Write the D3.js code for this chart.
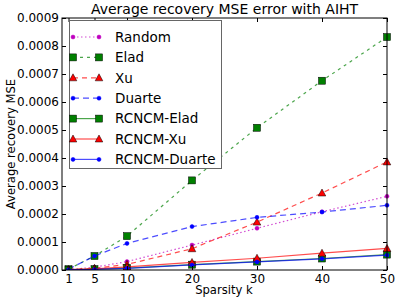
<!DOCTYPE html>
<html>
<head>
<meta charset="utf-8">
<script src="https://cdn.jsdelivr.net/npm/d3@7"></script>
<style>
  body { margin: 0; background: #fff; }
  svg text { font-family: "DejaVu Sans", sans-serif; fill: #000; }
</style>
</head>
<body>
<svg id="chart"></svg>
<script>
const width = 399;
const height = 303;

// data
const sparsity = [1, 5, 10, 20, 30, 40, 50];
const xTicks = [1, 5, 10, 20, 30, 40, 50];
const yTicks = [0, 0.0001, 0.0002, 0.0003, 0.0004, 0.0005, 0.0006, 0.0007, 0.0008, 0.0009];

const random      = [0.000001, 0.000010, 0.000030, 0.000089, 0.000149, 0.000208, 0.000263];
const elad        = [0.000003, 0.000050, 0.000121, 0.000320, 0.000508, 0.000676, 0.000832];
const xu          = [0.000001, 0.000006, 0.000020, 0.000076, 0.000171, 0.000275, 0.000386];
const duarte      = [0.000003, 0.000050, 0.000095, 0.000155, 0.000188, 0.000207, 0.000231];
const rcncmElad   = [0.000001, 0.000003, 0.000007, 0.000019, 0.000030, 0.000041, 0.000055];
const rcncmXu     = [0.000001, 0.000004, 0.000011, 0.000027, 0.000042, 0.000060, 0.000077];
const rcncmDuarte = [0.000001, 0.000002, 0.000006, 0.000018, 0.000029, 0.000040, 0.000053];

const series = [
  { name: "Random", values: random, color: "#bf00bf", dash: "1.5,2.5", marker: "dot" },
  { name: "Elad", values: elad, color: "#008000", dash: "3,4", marker: "square" },
  { name: "Xu", values: xu, color: "#ff0000", dash: "5,4", marker: "triangle" },
  { name: "Duarte", values: duarte, color: "#0000ff", dash: "6,4", marker: "dot" },
  { name: "RCNCM-Elad", values: rcncmElad, color: "#008000", dash: null, marker: "square" },
  { name: "RCNCM-Xu", values: rcncmXu, color: "#ff0000", dash: null, marker: "triangle" },
  { name: "RCNCM-Duarte", values: rcncmDuarte, color: "#0000ff", dash: null, marker: "dot" }
];

const margin = { top: 18, right: 12, bottom: 33, left: 62 };
const plotW = width - margin.left - margin.right;
const plotH = height - margin.top - margin.bottom;

const svg = d3.select("#chart")
  .attr("width", width)
  .attr("height", height);

const x = d3.scaleLinear().domain([0, 50]).range([margin.left, margin.left + plotW]);
const y = d3.scaleLinear().domain([0, 0.0009]).range([margin.top + plotH, margin.top]);

// clip the lines to the axes box (markers at the edge may stick out a bit)
svg.append("clipPath").attr("id", "clip")
  .append("rect")
  .attr("x", margin.left).attr("y", margin.top - 6)
  .attr("width", plotW + 6).attr("height", plotH + 6);

const line = d3.line().x((d, i) => x(sparsity[i])).y(d => y(d));

function drawMarker(g, type, cx, cy, color) {
  if (type === "square") {
    g.append("rect")
      .attr("x", cx - 3.5).attr("y", cy - 3.5)
      .attr("width", 7).attr("height", 7)
      .attr("fill", color).attr("stroke", "#000").attr("stroke-width", 0.5);
  } else if (type === "triangle") {
    g.append("path")
      .attr("d", `M${cx},${cy - 4}L${cx + 3.8},${cy + 3}L${cx - 3.8},${cy + 3}Z`)
      .attr("fill", color).attr("stroke", "#000").attr("stroke-width", 0.5);
  } else {
    g.append("circle")
      .attr("cx", cx).attr("cy", cy).attr("r", 2)
      .attr("fill", color).attr("stroke", color).attr("stroke-width", 0.5);
  }
}

const plot = svg.append("g").attr("clip-path", "url(#clip)");

series.forEach(s => {
  plot.append("path")
    .datum(s.values)
    .attr("d", line)
    .attr("fill", "none")
    .attr("stroke", s.color)
    .attr("stroke-opacity", 0.7)
    .attr("stroke-width", 1.2)
    .attr("stroke-dasharray", s.dash);
  const mg = plot.append("g");
  s.values.forEach((v, i) => drawMarker(mg, s.marker, x(sparsity[i]), y(v), s.color));
});

// axes box
svg.append("rect")
  .attr("x", margin.left).attr("y", margin.top)
  .attr("width", plotW).attr("height", plotH)
  .attr("fill", "none").attr("stroke", "#000").attr("stroke-width", 1);

// inward ticks on all four sides, like matplotlib
const xAxis = d3.axisBottom(x).tickValues(xTicks).tickSizeInner(-4).tickSizeOuter(0).tickPadding(4);
const yAxis = d3.axisLeft(y).tickValues(yTicks).tickSizeInner(-4).tickSizeOuter(0).tickPadding(3)
  .tickFormat(d3.format(".4f"));

const gx = svg.append("g").attr("transform", `translate(0,${margin.top + plotH})`).call(xAxis);
const gy = svg.append("g").attr("transform", `translate(${margin.left},0)`).call(yAxis);
svg.append("g").attr("transform", `translate(0,${margin.top})`)
  .call(d3.axisTop(x).tickValues(xTicks).tickSizeInner(-4).tickSizeOuter(0).tickFormat(""));
svg.append("g").attr("transform", `translate(${margin.left + plotW},0)`)
  .call(d3.axisRight(y).tickValues(yTicks).tickSizeInner(-4).tickSizeOuter(0).tickFormat(""));

svg.selectAll(".domain").remove();
svg.selectAll(".tick line").attr("stroke", "#000");
[gx, gy].forEach(g => g.selectAll("text")
  .style("font-size", "12px")
  .style("font-family", "'DejaVu Sans', sans-serif"));

// title and axis labels
svg.append("text")
  .attr("x", margin.left + plotW / 2).attr("y", 14)
  .attr("text-anchor", "middle").style("font-size", "14px")
  .text("Average recovery MSE error with AIHT");

svg.append("text")
  .attr("x", 224).attr("y", 294)
  .attr("text-anchor", "middle").style("font-size", "11.6px")
  .text("Sparsity k");

svg.append("text")
  .attr("transform", `translate(15,${margin.top + plotH / 2}) rotate(-90)`)
  .attr("text-anchor", "middle").style("font-size", "11.6px")
  .text("Average recovery MSE");

// legend
const legend = svg.append("g");
legend.append("rect")
  .attr("x", 69.5).attr("y", 20.5)
  .attr("width", 152).attr("height", 148)
  .attr("fill", "#fff").attr("stroke", "#666").attr("stroke-width", 1);

series.forEach((s, i) => {
  const ly = 37 + i * 20.4;
  legend.append("line")
    .attr("x1", 73).attr("x2", 99)
    .attr("y1", ly).attr("y2", ly)
    .attr("stroke", s.color).attr("stroke-opacity", 0.7)
    .attr("stroke-width", 1.2)
    .attr("stroke-dasharray", s.dash);
  drawMarker(legend, s.marker, 73, ly, s.color);
  drawMarker(legend, s.marker, 99, ly, s.color);
  legend.append("text")
    .attr("x", 115).attr("y", ly).attr("dy", "0.35em")
    .style("font-size", "13.5px")
    .text(s.name);
});
</script>
</body>
</html>
